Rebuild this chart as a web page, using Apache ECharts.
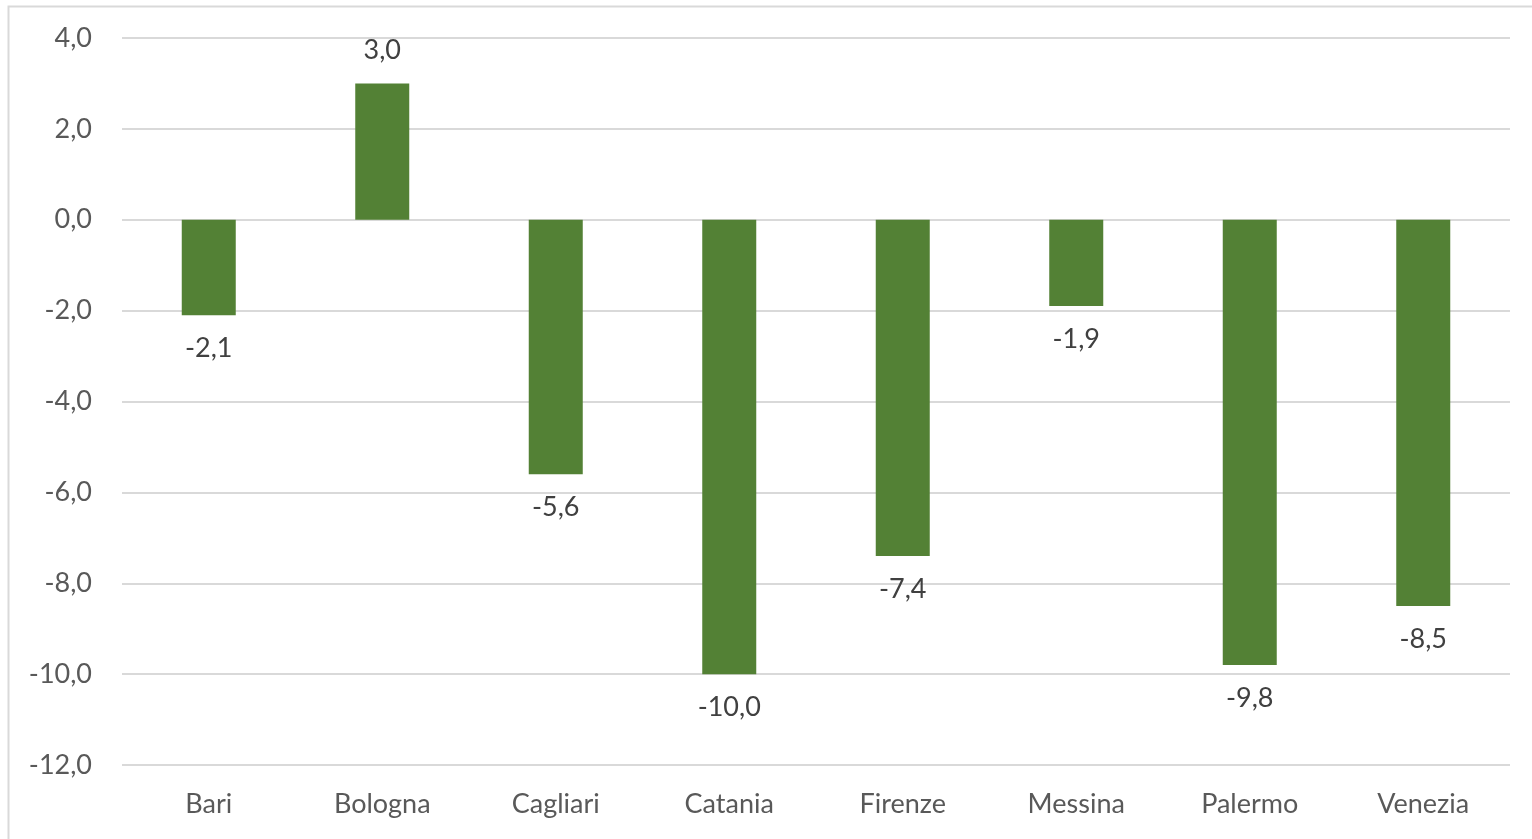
<!DOCTYPE html>
<html><head><meta charset="utf-8">
<script src="https://cdn.jsdelivr.net/npm/echarts@6/dist/echarts.min.js"></script>
<style>html,body{margin:0;padding:0;background:#fff}#c{width:1532px;height:839px}</style>
</head><body><div id="c"></div>
<script>
const categories = ['Bari','Bologna','Cagliari','Catania','Firenze','Messina','Palermo','Venezia'];
const values = [-2.1, 3.0, -5.6, -10.0, -7.4, -1.9, -9.8, -8.5];
const yTicks = {min: -12, max: 4, interval: 2};

const fmt = v => v.toFixed(1).replace('.', ',');
const chart = echarts.init(document.getElementById('c'));
chart.setOption({
  animation: false,
  graphic: [{type:'rect', shape:{x:8.5, y:6.5, width:1600, height:900}, style:{fill:'none', stroke:'#d9d9d9', lineWidth:2}, silent:true}],
  grid: {left: 122, right: 22, top: 38, bottom: 74, containLabel: false},
  xAxis: {type:'category', data: categories,
    axisLine:{show:false}, axisTick:{show:false},
    axisLabel:{color:'#595959', fontFamily:'Lato', fontSize:27, margin:26, interval:0}},
  yAxis: {type:'value', min: yTicks.min, max: yTicks.max, interval: yTicks.interval,
    axisLine:{show:false}, axisTick:{show:false},
    splitLine:{lineStyle:{color:'#d9d9d9', width:2}},
    axisLabel:{color:'#595959', fontFamily:'Lato', fontSize:27, margin:30, formatter: v => fmt(v)}},
  series: [{type:'bar', barWidth: 54,
    itemStyle:{color:'#538135'},
    data: values.map(v => ({value: v, label:{position: v >= 0 ? 'top' : 'bottom'}})),
    label:{show:true, color:'#404040', fontFamily:'Lato', fontSize:27, distance:20, formatter: p => fmt(p.value)}
  }]
});
</script></body></html>
